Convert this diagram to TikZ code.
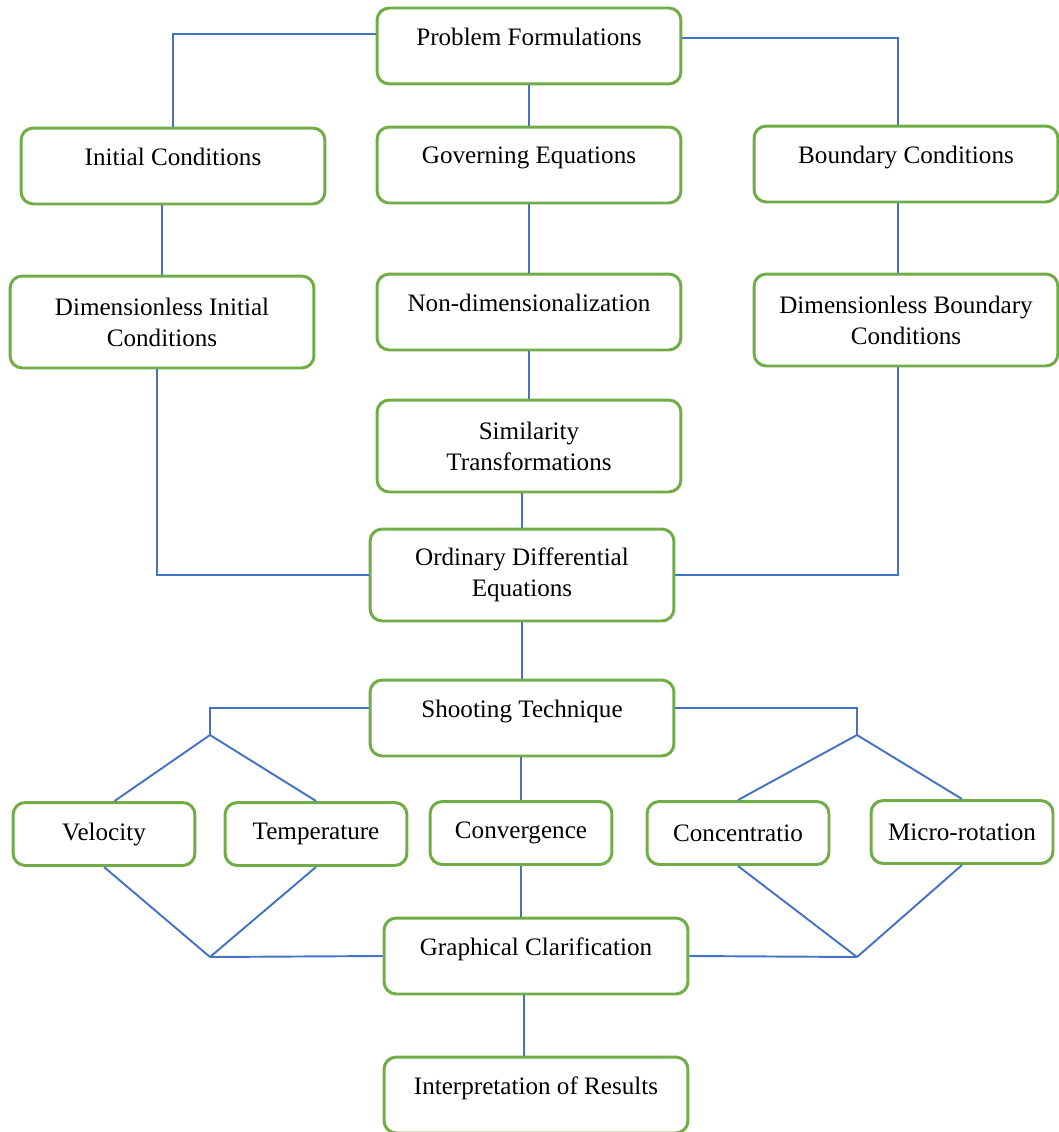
\documentclass[tikz,border=0pt]{standalone}
\usepackage{fontspec}
\setmainfont{Liberation Serif}
\definecolor{flowGreen}{HTML}{70AD47}
\definecolor{flowBlue}{HTML}{4472C4}
\usetikzlibrary{positioning}

\begin{document}
\begin{tikzpicture}[
    x=0.02cm, y=-0.02cm,
    basebox/.style={
      rounded corners=7pt,
      draw=flowGreen,
      fill=white,
      line width=1.7pt,
      align=center,
      font=\fontsize{14.3}{17.6}\selectfont,
      minimum width=6.08cm,
      minimum height=1.52cm,
      inner sep=2pt,
    },
    box/.style={basebox, text depth=11pt},
    tallbox/.style={basebox, minimum height=1.84cm},
    smallbox/.style={basebox, minimum width=3.64cm, minimum height=1.26cm},
    link/.style={flowBlue, line width=1.1pt},
  ]
    \useasboundingbox (0,0) rectangle (1058,1132);

    \node[box] (prob) at (529,46) {Problem Formulations};
    \node[box] (init) at (173,166) {Initial Conditions};
    \node[box] (gov) at (529,165) {Governing Equations};
    \node[box] (bound) at (906,164) {Boundary Conditions};
    \node[tallbox] (dinit) at (162,322) {Dimensionless Initial\\Conditions};
    \node[box] (nondim) at (529,312) {Non-dimensionalization};
    \node[tallbox] (dbound) at (906,320) {Dimensionless Boundary\\Conditions};
    \node[tallbox] (sim) at (529,446) {Similarity\\Transformations};
    \node[tallbox] (ode) at (522,575) {Ordinary Differential\\Equations};
    \node[box] (shoot) at (522,718) {Shooting Technique};

    \node[smallbox] (vel) at (104,834) {Velocity};
    \node[smallbox] (temp) at (316,834) {Temperature};
    \node[smallbox] (conv) at (521,833) {Convergence};
    \node[smallbox] (conc) at (738,833) {Concentratio};
    \node[smallbox] (micro) at (962,832) {Micro-rotation};

    \node[box] (graph) at (536,956) {Graphical Clarification};
    \node[box] (interp) at (536,1095) {Interpretation of Results};

    \coordinate (splitL) at (210,735);
    \coordinate (splitR) at (857,735);
    \coordinate (mergeL) at (210,957);
    \coordinate (mergeR) at (857,957);

    \draw[link] ([yshift=6.8pt]prob.west) -| (init.north);
    \draw[link] ([yshift=4.5pt]prob.east) -| ([xshift=-4.5pt]bound.north);
    \draw[link] (prob) -- (gov);
    \draw[link] (dinit.north |- init.south) -- (dinit.north);
    \draw[link] (gov) -- (nondim);
    \draw[link] ([xshift=-4.5pt]bound.south) -- ([xshift=-4.5pt]dbound.north);
    \draw[link] (nondim) -- (sim);
    \draw[link] (sim.south -| ode.north) -- (ode.north);
    \draw[link] ([xshift=-3pt]dinit.south) |- (ode.west);
    \draw[link] ([xshift=-4.5pt]dbound.south) |- (ode.east);
    \draw[link] (ode) -- (shoot);

    \draw[link] ([yshift=5.5pt]shoot.west) -| (splitL);
    \draw[link] ([yshift=5.5pt]shoot.east) -| (splitR);
    \draw[link] (splitL) -- ([xshift=6pt]vel.north);
    \draw[link] (splitL) -- (temp.north);
    \draw[link] (splitR) -- (conc.north);
    \draw[link] (splitR) -- (micro.north);
    \draw[link] (shoot.south -| conv.north) -- (conv.north);

    \draw[link] (vel.south) -- (mergeL);
    \draw[link] (temp.south) -- (mergeL);
    \draw[link] (conc.south) -- (mergeR);
    \draw[link] (micro.south) -- (mergeR);
    \draw[link] (mergeL) -- (graph.west);
    \draw[link] (mergeR) -- (graph.east);
    \draw[link] (conv.south) -- (conv.south |- graph.north);
    \draw[link] ([xshift=-7pt]graph.south) -- ([xshift=-7pt]interp.north);
  \end{tikzpicture}
\end{document}
